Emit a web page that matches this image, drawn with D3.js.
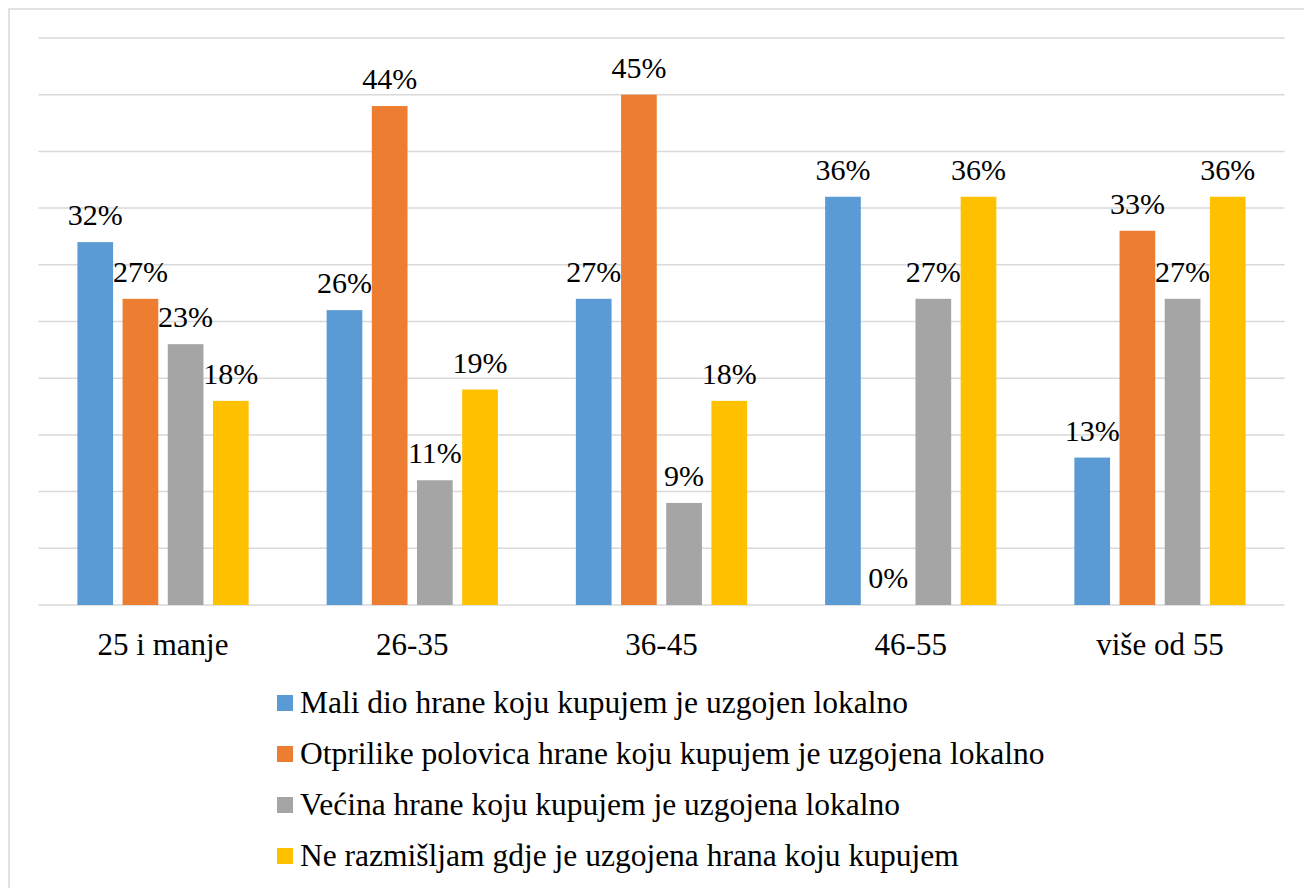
<!DOCTYPE html>
<html>
<head>
<meta charset="utf-8">
<script src="https://cdn.jsdelivr.net/npm/d3@7"></script>
<style>
  body { margin: 0; background: #fff; }
  svg text { font-family: "Liberation Serif", "Tinos", "Times New Roman", "DejaVu Serif", serif !important; fill: #000; }
</style>
</head>
<body>
<div id="chart"></div>
<script>
// age groups
const categories = ["25 i manje", "26-35", "36-45", "46-55", "više od 55"];
const seriesNames = [
  "Mali dio hrane koju kupujem je uzgojen lokalno",
  "Otprilike polovica hrane koju kupujem je uzgojena lokalno",
  "Većina hrane koju kupujem je uzgojena lokalno",
  "Ne razmišljam gdje je uzgojena hrana koju kupujem"
];
const maliDio = [32, 26, 27, 36, 13];
const polovica = [27, 44, 45, 0, 33];
const vecina = [23, 11, 9, 27, 27];
const neRazmisljam = [18, 19, 18, 36, 36];
const colors = ["#5b9bd5", "#ed7d31", "#a5a5a5", "#ffc000"];

const seriesValues = [maliDio, polovica, vecina, neRazmisljam];

const width = 1304, height = 888;
const plot = { left: 38.4, right: 1284.6, top: 38, bottom: 605 };

const svg = d3.select("#chart").append("svg")
  .attr("width", width)
  .attr("height", height);

// outer frame (only top and left visible in the picture)
svg.append("rect")
  .attr("x", 9).attr("y", 9)
  .attr("width", width + 20).attr("height", height + 20)
  .attr("fill", "none")
  .attr("stroke", "#d9d9d9")
  .attr("stroke-width", 1.5);

const x0 = d3.scaleBand()
  .domain(categories)
  .range([plot.left, plot.right]);

const x1 = d3.scaleBand()
  .domain(d3.range(seriesNames.length))
  .range([39, x0.bandwidth() - 39])
  .paddingInner(0.21);

const y = d3.scaleLinear()
  .domain([0, 50])
  .range([plot.bottom, plot.top]);

// gridlines
svg.append("g")
  .selectAll("line")
  .data(y.ticks(10))
  .join("line")
  .attr("x1", plot.left).attr("x2", plot.right)
  .attr("y1", d => y(d)).attr("y2", d => y(d))
  .attr("stroke", "#d9d9d9")
  .attr("stroke-width", 1.5);

// bars
const groups = svg.append("g")
  .selectAll("g")
  .data(categories)
  .join("g")
  .attr("transform", d => `translate(${x0(d)},0)`);

const cells = groups.selectAll("g")
  .data((c, i) => seriesValues.map((vals, s) => ({ s, v: vals[i] })))
  .join("g");

cells.append("rect")
  .attr("x", d => x1(d.s))
  .attr("width", x1.bandwidth())
  .attr("y", d => y(d.v))
  .attr("height", d => y(0) - y(d.v))
  .attr("fill", d => colors[d.s]);

cells.append("text")
  .attr("x", d => x1(d.s) + x1.bandwidth() / 2)
  .attr("y", d => y(d.v) - 17)
  .attr("text-anchor", "middle")
  .style("font-size", "30px")
  .text(d => d.v + "%");

// category axis
const xAxis = svg.append("g")
  .attr("transform", `translate(0,${plot.bottom})`)
  .call(d3.axisBottom(x0).tickSize(0).tickPadding(0));
xAxis.select(".domain").remove();
xAxis.selectAll("text")
  .attr("y", 50)
  .attr("dy", null)
  .style("font-size", "31px");

// legend
const legend = svg.append("g")
  .selectAll("g")
  .data(seriesNames)
  .join("g")
  .attr("transform", (d, i) => `translate(277,${703 + i * 51})`);

legend.append("rect")
  .attr("x", 0).attr("y", -8)
  .attr("width", 16).attr("height", 16)
  .attr("fill", (d, i) => colors[i]);

legend.append("text")
  .attr("x", 23)
  .attr("y", 10)
  .style("font-size", "31.5px")
  .text(d => d);
</script>
</body>
</html>
